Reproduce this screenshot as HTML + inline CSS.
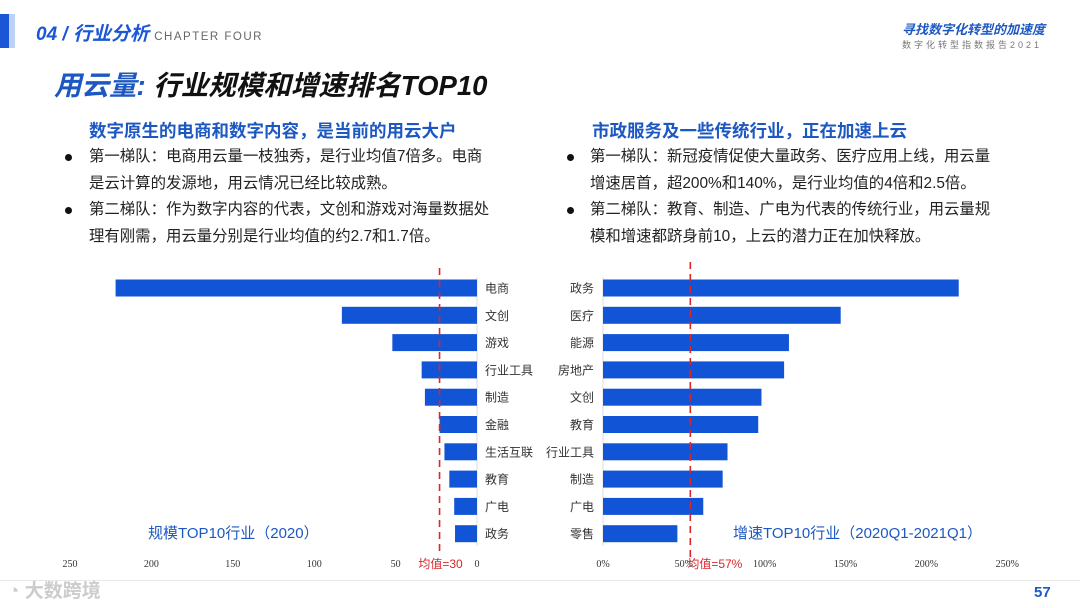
<!DOCTYPE html>
<html><head><meta charset="utf-8"><style>
body{margin:0;width:1080px;height:608px;background:#fff;overflow:hidden;position:relative;font-family:"Liberation Sans","Noto Sans CJK SC",sans-serif}
.a{position:absolute;white-space:nowrap}
.h{color:#1d58c2;font-weight:bold;font-size:17.5px}
.b{font-size:15.4px;color:#222;line-height:26.5px}
.dot{position:absolute;width:7px;height:7px;border-radius:50%;background:#111}
</style></head><body>
<div class="a" style="left:0;top:14px;width:9px;height:34px;background:#1a56d6"></div>
<div class="a" style="left:9px;top:14px;width:6px;height:34px;background:#bcd3f5"></div>
<div class="a" style="left:36px;top:19px;font-size:19px;font-style:italic;color:#1a56d6;font-weight:bold">04 / 行业分析 <span style="font-size:11.5px;color:#666;font-style:normal;font-weight:normal;letter-spacing:1.5px">CHAPTER FOUR</span></div>
<div class="a" style="left:902px;top:19px;font-size:13px;color:#1d58c2;font-weight:bold;font-style:italic">寻找数字化转型的加速度</div>
<div class="a" style="left:902px;top:38px;font-size:9px;color:#777;letter-spacing:3px">数字化转型指数报告2021</div>
<div class="a" style="left:54px;top:63px;font-size:27.5px;font-weight:bold;font-style:italic;color:#111"><span style="color:#1d58c2">用云量:</span> 行业规模和增速排名TOP10</div>
<div class="a h" style="left:89px;top:118px">数字原生的电商和数字内容，是当前的用云大户</div>
<div class="a h" style="left:592px;top:118px">市政服务及一些传统行业，正在加速上云</div>
<div class="dot" style="left:65px;top:154px"></div>
<div class="dot" style="left:65px;top:207px"></div>
<div class="dot" style="left:567px;top:154px"></div>
<div class="dot" style="left:567px;top:207px"></div>
<div class="a b" style="left:89px;top:144px">第一梯队：电商用云量一枝独秀，是行业均值7倍多。电商<br>是云计算的发源地，用云情况已经比较成熟。</div>
<div class="a b" style="left:89px;top:197px">第二梯队：作为数字内容的代表，文创和游戏对海量数据处<br>理有刚需，用云量分别是行业均值的约2.7和1.7倍。</div>
<div class="a b" style="left:590px;top:144px">第一梯队：新冠疫情促使大量政务、医疗应用上线，用云量<br>增速居首，超200%和140%，是行业均值的4倍和2.5倍。</div>
<div class="a b" style="left:590px;top:197px">第二梯队：教育、制造、广电为代表的传统行业，用云量规<br>模和增速都跻身前10，上云的潜力正在加快释放。</div>
<svg class="a" style="left:0;top:0" width="1080" height="608" id="svg"></svg>
<div class="a" style="left:0;top:580px;width:1080px;height:1px;background:#e8e8e8"></div>
<div class="a" style="left:1034px;top:584px;font-size:15px;font-weight:bold;color:#1d58c2">57</div>
<div class="a" style="left:8px;top:576px;font-size:19px;color:#ccc;font-weight:bold">◔ 大数跨境</div>
<script>
const leftCats=["电商","文创","游戏","行业工具","制造","金融","生活互联","教育","广电","政务"];
const leftVals=[222,83,52,34,32,23,20,17,14,13.5];
const leftTicks=[250,200,150,100,50,0];
const leftMean=23;
const rightCats=["政务","医疗","能源","房地产","文创","教育","行业工具","制造","广电","零售"];
const rightVals=[220,147,115,112,98,96,77,74,62,46];
const rightTicks=[0,50,100,150,200,250];
const rightMean=54;
const NS="http://www.w3.org/2000/svg",svg=document.getElementById('svg');
function mk(t,a,txt){const e=document.createElementNS(NS,t);for(const k in a)e.setAttribute(k,a[k]);if(txt!=null)e.textContent=txt;svg.appendChild(e);return e;}
const lx=v=>477-v*1.628, rx=v=>603+v*1.617, ry=i=>288+i*27.3;
let e;
e=mk('line',{x1:477,x2:477,y1:277,y2:546,stroke:'#ddd'});
e=mk('line',{x1:603,x2:603,y1:277,y2:546,stroke:'#ddd'});
leftVals.forEach((v,i)=>{
 e=mk('rect',{x:lx(v),y:ry(i)-8.5,width:lx(0)-lx(v),height:17,fill:'#1155d6'});
 
 e=mk('text',{x:485,y:ry(i)+4.5,'font-size':12,fill:'#333'},leftCats[i]);
 
});
rightVals.forEach((v,i)=>{
 e=mk('rect',{x:rx(0),y:ry(i)-8.5,width:rx(v)-rx(0),height:17,fill:'#1155d6'});
 
 e=mk('text',{x:594,y:ry(i)+4.5,'font-size':12,fill:'#333','text-anchor':'end'},rightCats[i]);
 
});
leftTicks.forEach(t=>{e=mk('text',{x:lx(t),y:567,'font-size':10,fill:'#333','text-anchor':'middle','font-family':'Liberation Serif'},t);
 });
rightTicks.forEach(t=>{e=mk('text',{x:rx(t),y:567,'font-size':10,fill:'#333','text-anchor':'middle','font-family':'Liberation Serif'},t+'%');
 });
e=mk('line',{x1:lx(leftMean),x2:lx(leftMean),y1:268,y2:560,stroke:'#d9262b','stroke-width':1.6,'stroke-dasharray':'7,5'});

e=mk('line',{x1:rx(rightMean),x2:rx(rightMean),y1:262,y2:560,stroke:'#d9262b','stroke-width':1.6,'stroke-dasharray':'7,5'});

e=mk('rect',{x:lx(leftMean)-24,y:555,width:50,height:16,fill:'#fff'});
e=mk('text',{x:lx(leftMean)+1,y:568,'font-size':12,fill:'#d9262b','text-anchor':'middle'},'均值=30');

e=mk('text',{x:rx(rightMean)-3,y:568,'font-size':12,fill:'#d9262b'},'均值=57%');

e=mk('text',{x:148,y:538,'font-size':15,fill:'#1d58c2'},'规模TOP10行业（2020）');

e=mk('text',{x:733,y:538,'font-size':15,fill:'#1d58c2'},'增速TOP10行业（2020Q1-2021Q1）');

</script>
</body></html>
